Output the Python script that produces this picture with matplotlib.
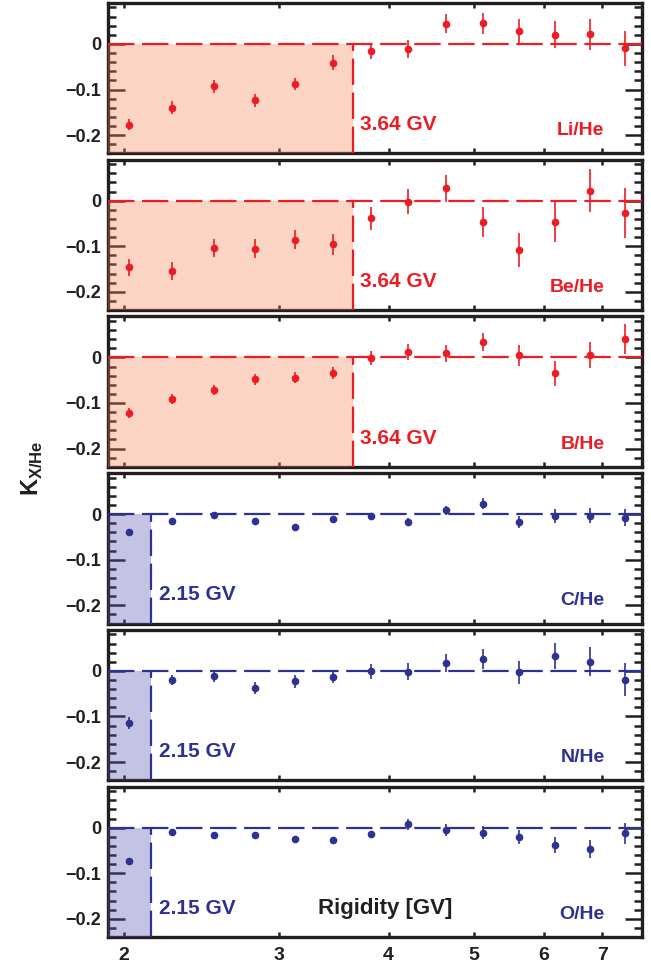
import matplotlib
matplotlib.use("Agg")
import matplotlib.pyplot as plt
from matplotlib.ticker import FixedLocator, NullLocator, MultipleLocator

plt.rcParams['font.family'] = ['Liberation Sans', 'DejaVu Sans']
plt.rcParams['font.weight'] = 'bold'
plt.rcParams['mathtext.fontset'] = 'custom'
plt.rcParams['mathtext.rm'] = 'Liberation Sans'
plt.rcParams['mathtext.bf'] = 'Liberation Sans:bold'
plt.rcParams['lines.scale_dashes'] = False

# rigidity bin centres [GV]
rig = [2.03, 2.27, 2.53, 2.82, 3.13, 3.46, 3.82, 4.21, 4.65, 5.12, 5.63, 6.18, 6.77, 7.42]

li_he = [-0.177, -0.140, -0.093, -0.124, -0.088, -0.041, -0.016, -0.011, 0.044, 0.045, 0.029, 0.020, 0.021, -0.010]
li_err = [0.012, 0.014, 0.014, 0.014, 0.014, 0.017, 0.018, 0.020, 0.021, 0.023, 0.026, 0.030, 0.034, 0.038]

be_he = [-0.146, -0.154, -0.104, -0.105, -0.086, -0.096, -0.039, -0.002, 0.027, -0.046, -0.109, -0.047, 0.022, -0.027]
be_err = [0.019, 0.020, 0.020, 0.020, 0.021, 0.023, 0.025, 0.028, 0.029, 0.033, 0.037, 0.043, 0.047, 0.055]

b_he = [-0.122, -0.092, -0.072, -0.048, -0.045, -0.034, -0.002, 0.012, 0.009, 0.034, 0.005, -0.035, 0.005, 0.041]
b_err = [0.011, 0.011, 0.011, 0.012, 0.012, 0.013, 0.015, 0.017, 0.018, 0.020, 0.023, 0.027, 0.029, 0.033]

c_he = [-0.039, -0.015, -0.001, -0.016, -0.028, -0.010, -0.004, -0.017, 0.008, 0.023, -0.017, -0.004, -0.003, -0.008]
c_err = [0.004, 0.004, 0.004, 0.005, 0.005, 0.006, 0.007, 0.008, 0.009, 0.012, 0.013, 0.015, 0.017, 0.019]

n_he = [-0.115, -0.020, -0.011, -0.037, -0.023, -0.013, -0.001, -0.002, 0.017, 0.026, -0.003, 0.033, 0.020, -0.019]
n_err = [0.013, 0.012, 0.013, 0.013, 0.014, 0.014, 0.017, 0.019, 0.019, 0.022, 0.025, 0.028, 0.032, 0.037]

o_he = [-0.073, -0.010, -0.016, -0.016, -0.026, -0.027, -0.015, 0.007, -0.006, -0.011, -0.021, -0.038, -0.047, -0.012]
o_err = [0.004, 0.004, 0.005, 0.005, 0.005, 0.006, 0.008, 0.012, 0.013, 0.014, 0.016, 0.017, 0.020, 0.023]

names = ['Li/He', 'Be/He', 'B/He', 'C/He', 'N/He', 'O/He']
values = [li_he, be_he, b_he, c_he, n_he, o_he]
errors = [li_err, be_err, b_err, c_err, n_err, o_err]
cutoffs = [3.64, 3.64, 3.64, 2.15, 2.15, 2.15]

xticks = [2, 3, 4, 5, 6, 7]
xmin, xmax = 1.92, 7.76
ymin, ymax = -0.24, 0.09

red = '#ed1c24'
blue = '#2e3192'
ink = '#231f20'
# semi-transparent shades so ticks show through, like the original
red_shade = (0.957, 0.518, 0.329, 0.35)
blue_shade = (0.35, 0.33, 0.70, 0.35)

fig, axes = plt.subplots(6, 1, figsize=(6.51, 9.66), dpi=100, sharex=True)
fig.subplots_adjust(left=0.166, right=0.986, top=0.997, bottom=0.030, hspace=0.042)

for i, ax in enumerate(axes):
    col = red if i < 3 else blue
    shade = red_shade if i < 3 else blue_shade
    cut = cutoffs[i]

    ax.set_xscale('log')
    ax.set_xlim(xmin, xmax)
    ax.set_ylim(ymin, ymax)

    ax.fill_between([xmin, cut], ymin, 0, color=shade, lw=0, zorder=2.6)
    ax.axhline(0, color=col, lw=1.6, dashes=(19, 5.5), zorder=3)
    ax.plot([cut, cut], [ymin, 0], color=col, lw=1.6, dashes=(19, 5.5), zorder=3)

    ax.errorbar(rig, values[i], yerr=errors[i], fmt='o', color=col, ms=4.5,
                elinewidth=1.2, capsize=0, zorder=5)

    ax.text(cut * 1.02, 0.19, f'{cut:.2f} GV', color=col, fontsize=15,
            fontweight='bold', ha='left', va='center',
            transform=ax.get_xaxis_transform())
    ax.text(0.93, 0.15, names[i], color=col, fontsize=14, fontweight='bold',
            ha='right', va='center', transform=ax.transAxes)

    ax.xaxis.set_major_locator(FixedLocator(xticks))
    ax.xaxis.set_minor_locator(NullLocator())
    ax.set_xticklabels([str(t) for t in xticks])
    ax.yaxis.set_major_locator(FixedLocator([-0.2, -0.1, 0]))
    ax.yaxis.set_minor_locator(MultipleLocator(0.02))
    ax.set_yticklabels(['\u22120.2', '\u22120.1', '0'])

    ax.tick_params(axis='y', which='major', direction='in', length=12, width=1.8,
                   left=True, right=True, labelsize=13, pad=5, colors=ink)
    ax.tick_params(axis='y', which='minor', direction='in', length=6, width=1.8,
                   left=True, right=True, colors=ink)
    ax.tick_params(axis='x', which='major', direction='in', length=3.5, width=1.8,
                   top=True, bottom=True, labelsize=14, pad=7, colors=ink)
    for lab in ax.get_xticklabels() + ax.get_yticklabels():
        lab.set_fontweight('bold')
    for sp in ax.spines.values():
        sp.set_linewidth(2.4)
        sp.set_color(ink)
        sp.set_zorder(2.5)

axes[-1].text(0.52, 0.19, 'Rigidity [GV]', color=ink, fontsize=16,
              fontweight='bold', ha='center', va='center',
              transform=axes[-1].transAxes)

fig.text(0.05, 0.515, r'$\mathbf{K}_{\mathbf{X/He}}$', rotation=90, fontsize=17,
         color=ink, ha='center', va='center')

fig.savefig('out.png', dpi=100)
